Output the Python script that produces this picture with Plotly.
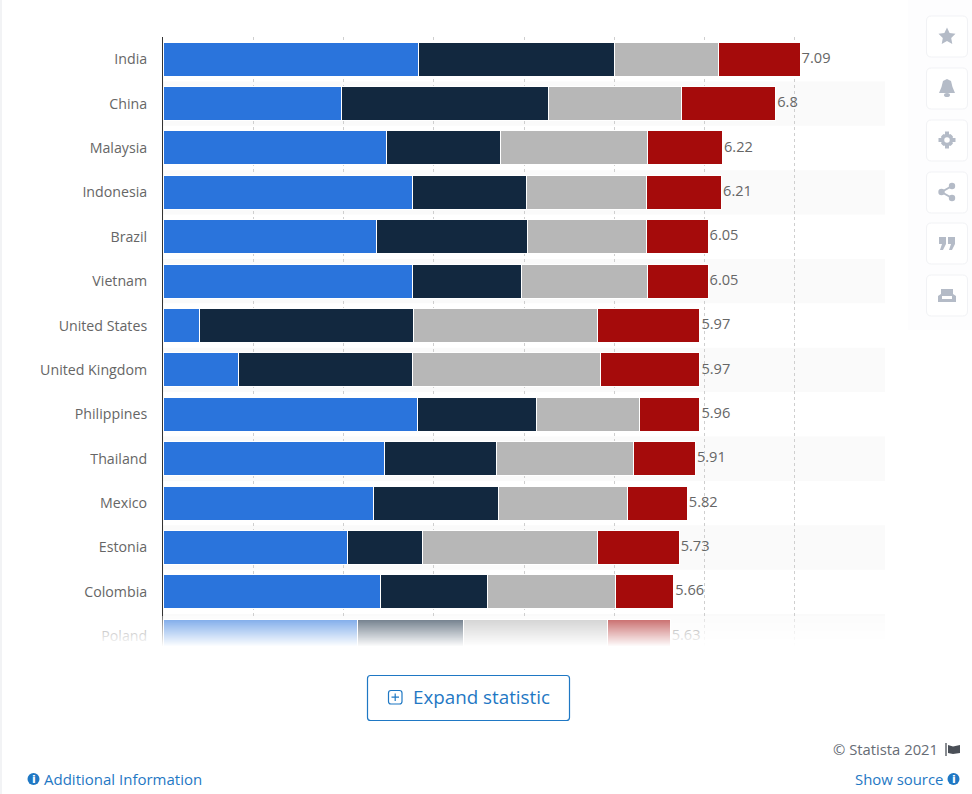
import plotly.graph_objects as go

W, H = 972, 794

countries = ["India", "China", "Malaysia", "Indonesia", "Brazil", "Vietnam", "United States",
             "United Kingdom", "Philippines", "Thailand", "Mexico", "Estonia", "Colombia", "Poland"]
totals = ["7.09", "6.8", "6.22", "6.21", "6.05", "6.05", "5.97",
          "5.97", "5.96", "5.91", "5.82", "5.73", "5.66", "5.63"]
seg_blue = [2.83, 1.98, 2.48, 2.77, 2.37, 2.76, 0.40, 0.84, 2.82, 2.45, 2.33, 2.04, 2.41, 2.15]
seg_navy = [2.17, 2.29, 1.26, 1.26, 1.67, 1.21, 2.38, 1.93, 1.32, 1.24, 1.39, 0.83, 1.19, 1.18]
seg_gray = [1.16, 1.47, 1.63, 1.33, 1.32, 1.40, 2.03, 2.08, 1.14, 1.52, 1.43, 1.94, 1.41, 1.59]
seg_red = [0.90, 1.05, 0.83, 0.83, 0.68, 0.67, 1.14, 1.10, 0.67, 0.69, 0.66, 0.91, 0.65, 0.70]

FONT = "Open Sans"
LINK = "#1f78c4"
ICON = "#b4bbc7"


def px(x):
    return x / W


def py(y):
    return 1 - y / H


def pic_path(points):
    # pixel points -> svg path in paper coords
    return "M" + " L".join(f"{px(x):.5f},{py(y):.5f}" for x, y in points) + " Z"


def round_rect(x0, y0, x1, y1, r):
    s = f"M{px(x0 + r):.5f},{py(y0):.5f} L{px(x1 - r):.5f},{py(y0):.5f} "
    s += f"Q{px(x1):.5f},{py(y0):.5f} {px(x1):.5f},{py(y0 + r):.5f} L{px(x1):.5f},{py(y1 - r):.5f} "
    s += f"Q{px(x1):.5f},{py(y1):.5f} {px(x1 - r):.5f},{py(y1):.5f} L{px(x0 + r):.5f},{py(y1):.5f} "
    s += f"Q{px(x0):.5f},{py(y1):.5f} {px(x0):.5f},{py(y1 - r):.5f} L{px(x0):.5f},{py(y0 + r):.5f} "
    s += f"Q{px(x0):.5f},{py(y0):.5f} {px(x0 + r):.5f},{py(y0):.5f} Z"
    return s


def page_shape(**kw):
    return dict(xref="paper", yref="paper", **kw)


fig = go.Figure()
for vals, color in [(seg_blue, "#2a74dc"), (seg_navy, "#12283f"), (seg_gray, "#b7b7b7"), (seg_red, "#a50b0b")]:
    fig.add_bar(y=countries, x=vals, orientation="h", marker=dict(color=color, line=dict(color="white", width=1)))

ends = [a + b + c + d for a, b, c, d in zip(seg_blue, seg_navy, seg_gray, seg_red)]
fig.add_scatter(y=countries, x=ends, mode="text", text=["\u200a" + t for t in totals], textposition="middle right",
                textfont=dict(family=FONT, size=14.6, color="#666666"), cliponaxis=False)

shapes = []
# page edge and side panel
shapes.append(page_shape(type="rect", x0=0, x1=px(2), y0=0, y1=1, fillcolor="#f2f3f5", line_width=0, layer="below"))
shapes.append(page_shape(type="rect", x0=px(908), x1=1, y0=py(330), y1=1, fillcolor="#fdfdfe", line_width=0, layer="below"))
# alternating row bands
for i in range(1, len(countries), 2):
    shapes.append(dict(type="rect", xref="x", yref="y", x0=0, x1=8, y0=i - 0.5, y1=i + 0.5,
                       fillcolor="#fafafa", line_width=0, layer="below"))
# fade over the last row
for k in range(36):
    y0 = 616 + k
    shapes.append(page_shape(type="rect", x0=px(3), x1=px(905), y0=py(y0), y1=py(y0 + 1), fillcolor="white",
                             opacity=min(1, 0.35 + k * 0.65 / 30), line_width=0))
shapes.append(page_shape(type="rect", x0=px(3), x1=px(905), y0=py(660), y1=py(651), fillcolor="white", line_width=0))

# button
shapes.append(page_shape(type="path", path=round_rect(367.5, 675.5, 569.5, 720.5, 3),
                         fillcolor="white", line=dict(color=LINK, width=1.2)))
shapes.append(page_shape(type="path", path=round_rect(388.5, 690.5, 402, 704, 2.5), line=dict(color=LINK, width=1.2)))
shapes.append(page_shape(type="path",
                         path=f"M{px(391.5)},{py(697.2)} L{px(399)},{py(697.2)} M{px(395.2)},{py(693.5)} L{px(395.2)},{py(701)}",
                         line=dict(color=LINK, width=1.2)))

# side buttons
for y in [36, 88, 140, 192, 243, 295]:
    shapes.append(page_shape(type="path", path=round_rect(926.5, y - 20, 967.5, y + 21, 5),
                             fillcolor="white", line=dict(color="#f1f2f5", width=1)))

star = [(947, 27.5), (949.6, 33), (955.5, 33.8), (951.2, 38), (952.3, 44), (947, 41), (941.7, 44), (942.8, 38),
        (938.5, 33.8), (944.4, 33)]
bell = [(947, 79), (951, 81), (952.5, 87), (955, 93), (939, 93), (941.5, 87), (943, 81)]
printer = [(941, 289), (953, 289), (953, 294), (956, 296), (956, 302), (938, 302), (938, 296), (941, 294)]
quote_l = [(939, 237), (946, 237), (946, 244), (943, 250), (940, 250), (942, 244), (939, 244)]
quote_r = [(948, 237), (955, 237), (955, 244), (952, 250), (949, 250), (951, 244), (948, 244)]
gear_h = [(938.5, 138), (955.5, 138), (955.5, 142), (938.5, 142)]
gear_v = [(945, 131.5), (949, 131.5), (949, 148.5), (945, 148.5)]
gear_d1 = [(941, 136.5), (943.5, 134), (953, 143.5), (950.5, 146)]
gear_d2 = [(953, 136.5), (950.5, 134), (941, 143.5), (943.5, 146)]
flag = [(948, 745), (953, 746.5), (960, 745), (960, 753), (953, 754), (948, 753)]
for pts in [star, bell, printer, quote_l, quote_r, gear_h, gear_v, gear_d1, gear_d2]:
    shapes.append(page_shape(type="path", path=pic_path(pts), fillcolor=ICON, line_width=0))
shapes.append(page_shape(type="path", path=pic_path(flag), fillcolor="#4a4f57", line_width=0))
shapes.append(page_shape(type="line", x0=px(946), x1=px(946), y0=py(743), y1=py(756), line=dict(color="#4a4f57", width=1.3)))
shapes.append(page_shape(type="circle", x0=px(944), x1=px(950), y0=py(93), y1=py(97), fillcolor=ICON, line_width=0))
shapes.append(page_shape(type="rect", x0=px(942), x1=px(952), y0=py(296), y1=py(299), fillcolor="white", line_width=0))
# gear
shapes.append(page_shape(type="circle", x0=px(942.5), x1=px(951.5), y0=py(135.5), y1=py(144.5), fillcolor="white",
                         line=dict(color=ICON, width=3.5)))
# share
for cx, cy in [(941.5, 192), (952, 186), (952, 198)]:
    shapes.append(page_shape(type="circle", x0=px(cx - 3.2), x1=px(cx + 3.2), y0=py(cy + 3.2), y1=py(cy - 3.2),
                             fillcolor=ICON, line_width=0))
shapes.append(page_shape(type="path", path=f"M{px(952)},{py(186)} L{px(941.5)},{py(192)} L{px(952)},{py(198)}",
                         line=dict(color=ICON, width=2)))
# info circles
for cx, cy in [(33.5, 779), (953.5, 779)]:
    shapes.append(page_shape(type="circle", x0=px(cx - 6), x1=px(cx + 6), y0=py(cy + 6), y1=py(cy - 6),
                             fillcolor=LINK, line_width=0))


def note(text, x, y, size, color, anchor="left", family=FONT):
    return dict(text=text, xref="paper", yref="paper", x=px(x), y=py(y), xanchor=anchor, yanchor="middle",
                showarrow=False, font=dict(family=family, size=size, color=color))


annotations = [
    note("Expand statistic", 411, 697, 18.8, LINK),
    note("© Statista 2021", 940, 749, 14.8, "#666c75", "right"),
    note("Show source", 945, 779, 14.9, LINK, "right"),
    note("Additional Information", 42, 778.5, 15, LINK),
    note("<b>i</b>", 33.5, 779, 11, "white", "center", "DejaVu Sans"),
    note("<b>i</b>", 953.5, 779, 11, "white", "center", "DejaVu Sans"),
]

fig.update_layout(
    width=W,
    height=H,
    autosize=False,
    barmode="stack",
    bargap=0.235,
    showlegend=False,
    paper_bgcolor="white",
    plot_bgcolor="rgba(0,0,0,0)",
    margin=dict(l=0, r=0, t=0, b=0),
    font=dict(family=FONT, size=14, color="#666666"),
    shapes=shapes,
    annotations=annotations,
    xaxis=dict(domain=[px(163), px(885)], range=[0, 8], dtick=1, showticklabels=False, zeroline=False,
               showgrid=True, griddash="dot", gridcolor="#cfcfcf", gridwidth=1),
    yaxis=dict(domain=[py(650), py(37)], range=[13.31, -0.5], showgrid=False, zeroline=False,
               showline=True, linecolor="#333333", linewidth=1, ticks="", ticklabelstandoff=12,
               tickfont=dict(family=FONT, size=14.2, color="#666666"), type="category",
               tickmode="array", tickvals=countries, ticktext=countries),
)

fig.write_html("out.html", config=dict(displayModeBar=False),
               post_script="document.body.style.margin='0';document.body.style.overflow='hidden';")
